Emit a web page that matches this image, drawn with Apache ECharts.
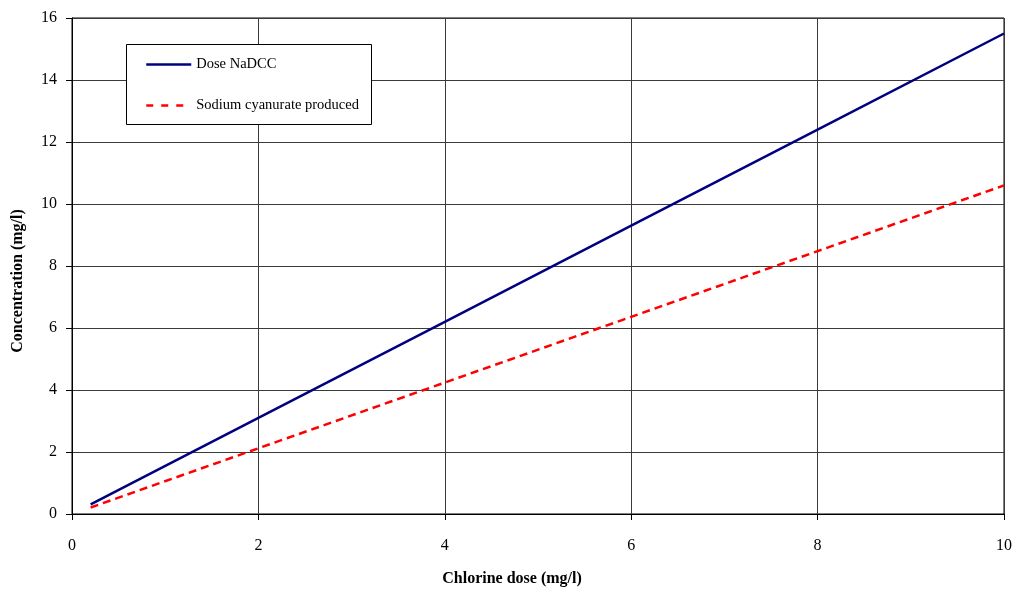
<!DOCTYPE html>
<html>
<head>
<meta charset="utf-8">
<script src="https://cdn.jsdelivr.net/npm/echarts@6/dist/echarts.min.js"></script>
<style>
  html, body { margin: 0; padding: 0; background: #fff; }
  #chart { width: 1015px; height: 592px; }
</style>
</head>
<body>
<div id="chart"></div>
<script>
// chlorine dose (mg/l)
const dose = [0.2, 2, 4, 6, 8, 10];
// concentrations (mg/l)
const nadcc = [0.31, 3.1, 6.2, 9.3, 12.4, 15.5];
const cyanurate = [0.21, 2.12, 4.24, 6.36, 8.48, 10.6];

const seriesNames = ["Dose NaDCC", "Sodium cyanurate produced"];
const font = "'Liberation Serif', 'Times New Roman', serif";

const chart = echarts.init(document.getElementById("chart"));

chart.setOption({
  animation: false,
  backgroundColor: "#fff",
  textStyle: { fontFamily: font },
  grid: { left: 72, right: 11, top: 18, bottom: 77, show: true, borderColor: "#000", borderWidth: 1 },
  graphic: [
    {
      type: "rect",
      left: 126, top: 44, z: 50,
      shape: { width: 245, height: 80 },
      style: { fill: "#fff", stroke: "#000", lineWidth: 1 },
    },
  ],
  legend: {
    orient: "vertical",
    left: 145, top: 57, z: 60,
    padding: 0,
    itemWidth: 45, itemHeight: 14, itemGap: 26, itemTextGap: 3,
    itemStyle: { opacity: 0 },
    lineStyle: { width: 2.5 },
    textStyle: { fontFamily: font, fontSize: 14.5, color: "#000" },
    data: [
      { name: seriesNames[0] },
      { name: seriesNames[1], lineStyle: { type: [7, 8], width: 2.5 } },
    ],
  },
  xAxis: {
    type: "value",
    min: 0, max: 10, interval: 2,
    name: "Chlorine dose (mg/l)",
    nameLocation: "middle",
    nameGap: 57,
    nameTextStyle: { fontFamily: font, fontSize: 16, fontWeight: "bold", color: "#000", padding: [0, 52, 0, 0] },
    axisLine: { lineStyle: { color: "#000", width: 1 } },
    axisTick: { show: true, length: 6, lineStyle: { color: "#000" } },
    axisLabel: { margin: 24, fontFamily: font, fontSize: 16, color: "#000" },
    splitLine: { show: true, lineStyle: { color: "#3a3a3a", width: 1 } },
  },
  yAxis: {
    type: "value",
    min: 0, max: 16, interval: 2,
    name: "Concentration (mg/l)",
    nameLocation: "middle",
    nameGap: 46,
    nameTextStyle: { fontFamily: font, fontSize: 16, fontWeight: "bold", color: "#000", padding: [0, 30, 0, 0] },
    axisLine: { show: true, lineStyle: { color: "#000", width: 1 } },
    axisTick: { show: true, length: 6, lineStyle: { color: "#000" } },
    axisLabel: { margin: 15, fontFamily: font, fontSize: 16, color: "#000" },
    splitLine: { show: true, lineStyle: { color: "#3a3a3a", width: 1 } },
  },
  series: [
    {
      name: seriesNames[0],
      type: "line",
      symbol: "none",
      data: dose.map((d, i) => [d, nadcc[i]]),
      lineStyle: { color: "#000080", width: 2.5 },
      itemStyle: { color: "#000080" },
    },
    {
      name: seriesNames[1],
      type: "line",
      symbol: "none",
      data: dose.map((d, i) => [d, cyanurate[i]]),
      lineStyle: { color: "#ff0000", width: 2.5, type: [8, 5] },
      itemStyle: { color: "#ff0000" },
    },
  ],
});
</script>
</body>
</html>
